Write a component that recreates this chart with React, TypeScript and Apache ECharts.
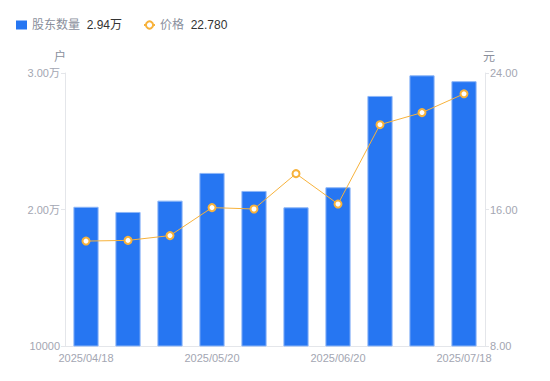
import React, { useEffect, useRef } from "react";
import * as echarts from "echarts";

const categories = [
  "2025/04/18", "2025/04/30", "2025/05/09", "2025/05/20", "2025/05/30",
  "2025/06/10", "2025/06/20", "2025/06/30", "2025/07/10", "2025/07/18",
];
const holders = [20200, 19820, 20650, 22680, 21360, 20160, 21630, 28320, 29830, 29400];
const prices = [14.15, 14.19, 14.47, 16.11, 16.03, 18.1, 16.32, 20.97, 21.68, 22.78];
const leftTicks = [10000, 20000, 30000];
const rightTicks = [8, 16, 24];

export default function App() {
  const ref = useRef<HTMLDivElement>(null);
  useEffect(() => {
    if (!ref.current) return;
    const chart = echarts.init(ref.current, null, { renderer: "svg" });
    const lastH = (holders[holders.length - 1] / 10000).toFixed(2) + "万";
    const lastP = prices[prices.length - 1].toFixed(3);
    const fmtLeft = (v: number) => (v > 10000 ? (v / 10000).toFixed(2) + "万" : String(v));
    const font = "'Liberation Sans', Arial, 'Noto Sans CJK SC', sans-serif";
    chart.setOption({
      animation: false,
      textStyle: { fontFamily: font },
      legend: {
        left: 3,
        top: 6,
        itemGap: 21,
        itemWidth: 11,
        itemHeight: 9,
        data: [
          { name: "股东数量", icon: "rect", itemStyle: { color: "#2676f2", borderWidth: 0 } },
          { name: "价格" },
        ],
        formatter: (name: string) =>
          `{n|${name}}  {v|${name === "股东数量" ? lastH : lastP}}`,
        textStyle: {
          fontFamily: font,
          rich: {
            n: { color: "#8a8f9c", fontSize: 12, fontFamily: font },
            v: { color: "#333333", fontSize: 12, fontFamily: font },
          },
        },
      },
      grid: { left: 57, right: 65, top: 65, bottom: 35, containLabel: false },
      xAxis: {
        type: "category",
        data: categories,
        axisLine: { lineStyle: { color: "#e4e6ea" } },
        axisTick: { show: false },
        axisLabel: { color: "#a3a6b2", fontSize: 11, interval: 2, margin: 6 },
      },
      yAxis: [
        {
          type: "value",
          name: "户",
          nameGap: 10,
          nameTextStyle: { color: "#8a8f9c", fontSize: 12, padding: [0, 10, 0, 0] },
          min: leftTicks[0],
          max: leftTicks[leftTicks.length - 1],
          interval: 10000,
          axisLine: { show: true, lineStyle: { color: "#e4e6ea" } },
          axisTick: { show: true, length: 4, lineStyle: { color: "#e4e6ea" } },
          splitLine: { show: false },
          axisLabel: { color: "#a3a6b2", fontSize: 11, formatter: fmtLeft, margin: 5 },
        },
        {
          type: "value",
          name: "元",
          nameGap: 10,
          nameTextStyle: { color: "#8a8f9c", fontSize: 12, padding: [0, 0, 0, 8] },
          min: rightTicks[0],
          max: rightTicks[rightTicks.length - 1],
          interval: 8,
          axisLine: { show: true, lineStyle: { color: "#e4e6ea" } },
          axisTick: { show: true, length: 4, lineStyle: { color: "#e4e6ea" } },
          splitLine: { show: false },
          axisLabel: { color: "#a3a6b2", fontSize: 11, formatter: (v: number) => v.toFixed(2), margin: 5 },
        },
      ],
      series: [
        {
          name: "股东数量",
          type: "bar",
          data: holders,
          barWidth: "60%",
          itemStyle: { color: "#2676f2", borderColor: "#8db6f7", borderWidth: 1 },
        },
        {
          name: "价格",
          type: "line",
          yAxisIndex: 1,
          data: prices,
          symbol: "circle",
          symbolSize: 7,
          lineStyle: { color: "#f7b23b", width: 1 },
          itemStyle: { color: "#ffffff", borderColor: "#f7b23b", borderWidth: 2 },
        },
      ],
    });
    return () => chart.dispose();
  }, []);
  return <div ref={ref} style={{ width: 542, height: 373 }} />;
}
